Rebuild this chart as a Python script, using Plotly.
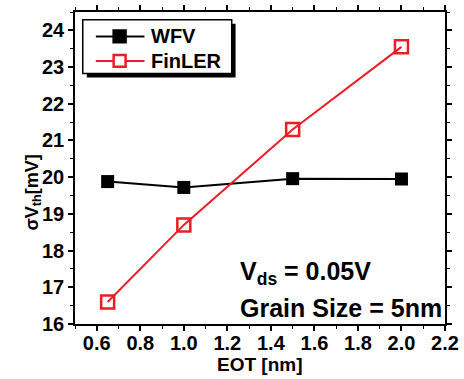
import plotly.graph_objects as go

eot = [0.65, 1.0, 1.5, 2.0]
wfv = [19.88, 19.72, 19.96, 19.95]
finler = [16.6, 18.7, 21.3, 23.55]
x_ticks = [0.6, 0.8, 1.0, 1.2, 1.4, 1.6, 1.8, 2.0, 2.2]
y_ticks = [16, 17, 18, 19, 20, 21, 22, 23, 24]
series_names = ["WFV", "FinLER"]

FONT = "Liberation Sans, Arial, sans-serif"
RED = "#ee1c25"

fig = go.Figure()
fig.add_trace(go.Scatter(x=eot, y=wfv, name=series_names[0], mode="lines+markers",
                         line=dict(color="black", width=2),
                         marker=dict(symbol="square", size=13, color="black")))
fig.add_trace(go.Scatter(x=eot, y=finler, name=series_names[1], mode="lines+markers",
                         line=dict(color=RED, width=2),
                         marker=dict(symbol="square-open", size=13, color=RED,
                                     line=dict(width=2.5, color=RED))))

axis_common = dict(showline=True, linecolor="black", linewidth=1.5, mirror="ticks",
                   ticks="outside", ticklen=5, tickwidth=1.5, tickcolor="black",
                   showgrid=False, zeroline=False,
                   tickfont=dict(family=FONT, size=20, color="black"))

fig.update_xaxes(range=[0.5, 2.2], tickvals=x_ticks,
                 ticktext=[f"<b>{v:.1f}</b>" for v in x_ticks],
                 ticklabelstandoff=-5,
                 minor=dict(dtick=0.1, ticklen=3, tickwidth=1, tickcolor="black", ticks="outside"),
                 **axis_common)
fig.update_yaxes(range=[16, 24.5], tickvals=y_ticks,
                 ticktext=[f"<b>{v}</b>" for v in y_ticks],
                 minor=dict(dtick=0.5, ticklen=3, tickwidth=1, tickcolor="black", ticks="outside"),
                 **axis_common)

# axis titles
fig.add_annotation(x=0.5, y=-0.131, xref="paper", yref="paper",
                   xanchor="center", yanchor="middle", showarrow=False,
                   text="<b>EOT [nm]</b>",
                   font=dict(family=FONT, size=19, color="black"))
fig.add_annotation(x=-0.112, y=0.42, xref="paper", yref="paper",
                   xanchor="center", yanchor="middle", showarrow=False,
                   textangle=-90, text="<b>σV<sub>th</sub>[mV]</b>",
                   font=dict(family=FONT, size=18, color="black"))

# manual legend (box with drop shadow), in paper coordinates
fig.add_shape(type="rect", xref="paper", yref="paper",
              x0=0.032, x1=0.434, y0=0.790, y1=0.962,
              fillcolor="black", line=dict(width=0), layer="above")
fig.add_shape(type="rect", xref="paper", yref="paper",
              x0=0.021, x1=0.4236, y0=0.8025, y1=0.975,
              fillcolor="white", line=dict(width=1.5, color="black"), layer="above")
legend_rows = [0.9216, 0.8433]
legend_styles = [("black", "black"), (RED, "white")]
mx, hx, hy = 0.1206, 0.0161, 0.0188
for name, yy, (col, fill) in zip(series_names, legend_rows, legend_styles):
    fig.add_shape(type="line", xref="paper", yref="paper",
                  x0=0.0563, x1=0.1877, y0=yy, y1=yy,
                  line=dict(color=col, width=2), layer="above")
    fig.add_shape(type="rect", xref="paper", yref="paper",
                  x0=mx - hx, x1=mx + hx, y0=yy - hy, y1=yy + hy,
                  fillcolor=fill, line=dict(color=col, width=2.5), layer="above")
    fig.add_annotation(x=0.201, y=yy, xref="paper", yref="paper",
                       xanchor="left", yanchor="middle", text=f"<b>{name}</b>",
                       showarrow=False,
                       font=dict(family=FONT, size=20, color="black"))

fig.add_annotation(x=0.441, y=0.164, xref="paper", yref="paper", xanchor="left",
                   yanchor="middle",
                   text="<b>V<sub>ds</sub> = 0.05V</b>", showarrow=False,
                   font=dict(family=FONT, size=25, color="black"))
fig.add_annotation(x=0.441, y=0.05, xref="paper", yref="paper", xanchor="left",
                   yanchor="middle",
                   text="<b>Grain Size = 5nm</b>", showarrow=False,
                   font=dict(family=FONT, size=25, color="black"))

fig.update_layout(
    width=464, height=379,
    margin=dict(l=75, r=16, t=5, b=55),
    plot_bgcolor="white", paper_bgcolor="white",
    showlegend=False,
)

fig.write_html("out.html", config={"displayModeBar": False},
               post_script="document.body.style.margin='0px';")
